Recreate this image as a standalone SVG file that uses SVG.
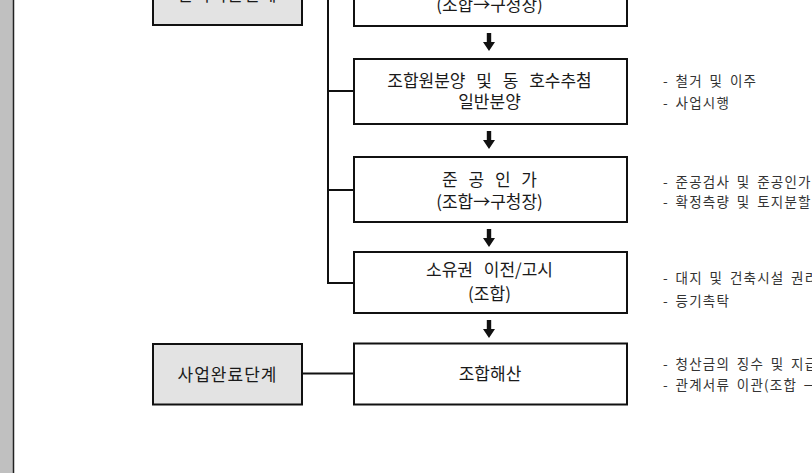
<svg xmlns="http://www.w3.org/2000/svg" width="812" height="473" viewBox="0 0 812 473">
  <style>
    .box { fill: #ffffff; stroke: #111111; stroke-width: 2; }
    .stage { fill: #e3e3e3; stroke: #111111; stroke-width: 2; }
    .conn { fill: none; stroke: #111111; stroke-width: 2; }
    .t { font-family: "Noto Sans CJK KR", "Noto Sans", sans-serif; font-size: 17px; fill: #1a1a1a; text-anchor: middle; dominant-baseline: central; word-spacing: 7px; }
    .st { font-family: "Noto Sans CJK KR", "Noto Sans", sans-serif; font-size: 17px; fill: #1a1a1a; text-anchor: middle; dominant-baseline: central; letter-spacing: 1px; }
    .n { font-family: "Noto Sans CJK KR", "Noto Sans", sans-serif; font-size: 13.5px; fill: #333333; dominant-baseline: central; letter-spacing: 1.2px; word-spacing: 2.5px; }
    .arr { fill: #111111; }
  </style>
  <defs>
    <path id="down" d="M-2.2,0 H2.2 V9 H6 L0,18 L-6,9 H-2.2 Z"/>
  </defs>

  <rect x="0" y="0" width="812" height="473" fill="#ffffff"/>
  <rect x="0" y="0" width="13" height="473" fill="#c0c0c0"/>
  <line x1="13.5" y1="0" x2="13.5" y2="473" stroke="#222222" stroke-width="1.5"/>

  <g id="connectors">
    <path class="conn" d="M328,-5 V283 H354"/>
    <path class="conn" d="M328,91 H354"/>
    <path class="conn" d="M328,190 H354"/>
    <path class="conn" d="M302,373.5 H354"/>
    <use href="#down" class="arr" x="489" y="33"/>
    <use href="#down" class="arr" x="489" y="131"/>
    <use href="#down" class="arr" x="489" y="229"/>
    <use href="#down" class="arr" x="489" y="320"/>
  </g>

  <g id="stage-management">
    <rect class="stage" x="153" y="-36" width="149" height="61"/>
    <text class="st" x="227.5" y="-6.5">관리처분단계</text>
  </g>

  <g id="stage-complete">
    <rect class="stage" x="153" y="344" width="149" height="60.5"/>
    <text class="st" x="227.5" y="373.5">사업완료단계</text>
  </g>

  <g id="box-approval">
    <rect class="box" x="354" y="-40" width="273" height="66"/>
    <text class="t" x="489.5" y="3.5">(조합→구청장)</text>
  </g>

  <g id="box-sale">
    <rect class="box" x="354" y="59" width="273" height="65"/>
    <text class="t" x="489.5" y="79.5">조합원분양 및 동 호수추첨</text>
    <text class="t" x="489.5" y="100.5">일반분양</text>
  </g>

  <g id="box-completion">
    <rect class="box" x="354" y="157" width="273" height="65"/>
    <text class="t" x="489.5" y="178">준 공 인 가</text>
    <text class="t" x="489.5" y="200">(조합→구청장)</text>
  </g>

  <g id="box-transfer">
    <rect class="box" x="354" y="252" width="273" height="61"/>
    <text class="t" x="489.5" y="268.5">소유권 이전/고시</text>
    <text class="t" x="489.5" y="292">(조합)</text>
  </g>

  <g id="box-dissolution">
    <rect class="box" x="354" y="343.5" width="273" height="61"/>
    <text class="t" x="490" y="372">조합해산</text>
  </g>

  <g id="notes">
    <text class="n" x="663" y="80">- 철거 및 이주</text>
    <text class="n" x="663" y="101.5">- 사업시행</text>
    <text class="n" x="663" y="181">- 준공검사 및 준공인가</text>
    <text class="n" x="663" y="201">- 확정측량 및 토지분할</text>
    <text class="n" x="663" y="277">- 대지 및 건축시설 권리</text>
    <text class="n" x="663" y="299.5">- 등기촉탁</text>
    <text class="n" x="663" y="363">- 청산금의 징수 및 지급</text>
    <text class="n" x="663" y="384">- 관계서류 이관(조합 →</text>
  </g>
</svg>
